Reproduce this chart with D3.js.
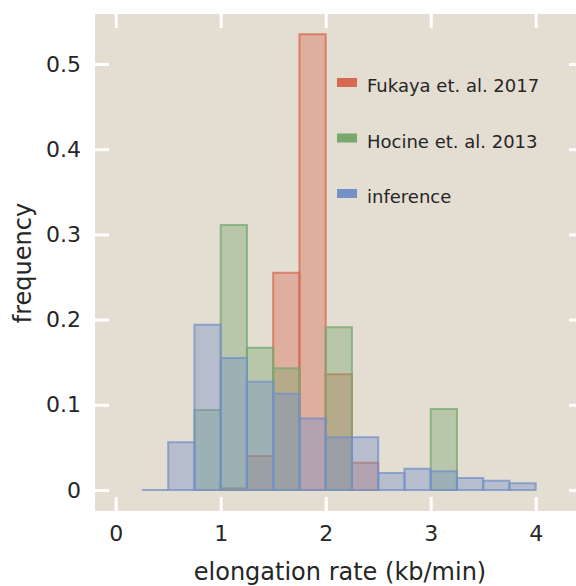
<!DOCTYPE html>
<html>
<head>
<meta charset="utf-8">
<script src="https://cdn.jsdelivr.net/npm/d3@7"></script>
<style>
  body { margin: 0; background: #ffffff; }
  svg { display: block; }
  text { font-family: "DejaVu Sans", sans-serif; fill: #262626; }
</style>
</head>
<body>
<div id="container"></div>
<script>
let w = 576;
let h = 586;

// DATA (histogram bins of width 0.25 kb/min, left edges)
let binStarts = [0.25, 0.5, 0.75, 1.0, 1.25, 1.5, 1.75, 2.0, 2.25, 2.5, 2.75, 3.0, 3.25, 3.5, 3.75];
let binWidth = 0.25;
let fukaya   = [null, null, null, 0.002, 0.040, 0.255, 0.535, 0.136, 0.032, null, null, null, null, null, null];
let hocine   = [null, null, 0.094, 0.311, 0.167, 0.143, null, 0.191, null, null, null, 0.095, null, null, null];
let inference = [0, 0.056, 0.194, 0.155, 0.127, 0.113, 0.084, 0.062, 0.062, 0.020, 0.025, 0.022, 0.014, 0.011, 0.008];
let seriesNames = ["Fukaya et. al. 2017", "Hocine et. al. 2013", "inference"];
let seriesColors = ["#d6694f", "#77a86e", "#7490c8"];
let xTicks = [0, 1, 2, 3, 4];
let yTicks = [0, 0.1, 0.2, 0.3, 0.4, 0.5];

// plot box
let boxLeft = 95, boxRight = 583, boxTop = 14, boxBottom = 511;

let viz = d3.select("#container").append("svg")
    .attr("width", w)
    .attr("height", h);

let x = d3.scaleLinear().domain([0, 4]).range([115.7, 535.7]);
let y = d3.scaleLinear().domain([0, 0.5]).range([490, 64]);

viz.append("rect")
    .attr("x", boxLeft).attr("y", boxTop)
    .attr("width", boxRight - boxLeft).attr("height", boxBottom - boxTop)
    .attr("fill", "#e3ddd2");

// bars drawn as paths so empty bins still show their edge line
let allSeries = [fukaya, hocine, inference];
allSeries.forEach((vals, si) => {
    let data = binStarts.map((b, i) => ({ x0: b, v: vals[i] })).filter(d => d.v !== null);
    viz.append("g").selectAll("path").data(data).enter()
        .append("path")
            .attr("d", d => {
                let x0 = x(d.x0), x1 = x(d.x0 + binWidth);
                return `M${x0},${y(0)}V${y(d.v)}H${x1}V${y(0)}Z`;
            })
            .attr("fill", seriesColors[si])
            .attr("fill-opacity", 0.4)
            .attr("stroke", seriesColors[si])
            .attr("stroke-opacity", 0.75)
            .attr("stroke-width", 2);
});

// axes, white ticks pointing inward
function styleAxis(g) {
    g.select(".domain").remove();
    g.selectAll(".tick line").attr("stroke", "#ffffff").attr("stroke-width", 3);
    g.selectAll(".tick text").style("font-size", "22px").attr("fill", "#262626");
}

viz.append("g")
    .attr("transform", `translate(${boxLeft},0)`)
    .call(d3.axisLeft(y).tickValues(yTicks).tickSize(-14).tickPadding(14).tickFormat(d => d === 0 ? "0" : d3.format(".1f")(d)))
    .call(styleAxis);

viz.append("g")
    .attr("transform", `translate(${boxRight},0)`)
    .call(d3.axisRight(y).tickValues(yTicks).tickSize(-14).tickFormat(""))
    .call(styleAxis);

viz.append("g")
    .attr("transform", `translate(0,${boxBottom})`)
    .call(d3.axisBottom(x).tickValues(xTicks).tickSize(-14).tickPadding(14).tickFormat(d3.format("d")))
    .call(styleAxis);

viz.append("g")
    .attr("transform", `translate(0,${boxTop})`)
    .call(d3.axisTop(x).tickValues(xTicks).tickSize(-14).tickFormat(""))
    .call(styleAxis);

// axis labels
viz.append("text")
    .attr("x", 340).attr("y", 580)
    .attr("text-anchor", "middle")
    .style("font-size", "24px")
    .text("elongation rate (kb/min)");

viz.append("text")
    .attr("transform", "translate(31,263) rotate(-90)")
    .attr("text-anchor", "middle")
    .style("font-size", "24px")
    .text("frequency");

// legend
let legend = viz.append("g");
seriesNames.forEach((name, i) => {
    let by = 92 + i * 55.5;
    legend.append("rect")
        .attr("x", 337).attr("y", by - 14)
        .attr("width", 20).attr("height", 9)
        .attr("fill", seriesColors[i]);
    legend.append("text")
        .attr("x", 367).attr("y", by)
        .style("font-size", "18px")
        .text(name);
});
</script>
</body>
</html>
